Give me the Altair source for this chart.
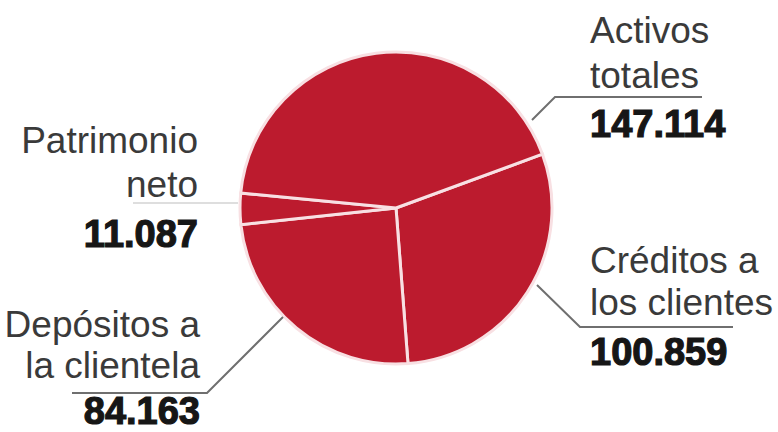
import math
import altair as alt
import pandas as pd

# ---- data ----
categories = ["Créditos a los clientes", "Depósitos a la clientela", "Patrimonio neto", "Activos totales"]
values = [100.859, 84.163, 11.087, 147.114]
value_labels = ["100.859", "84.163", "11.087", "147.114"]
label_lines = [["Créditos a", "los clientes"], ["Depósitos a", "la clientela"], ["Patrimonio", "neto"], ["Activos", "totales"]]

# ---- layout (pixel anchors for annotations) ----
start_angle = math.radians(69.8)
center = (396, 208)
radius = 156
label_x = [590, 200, 198, 590]
label_align = ["left", "right", "right", "left"]
line_baselines = [[273, 315], [337, 378], [153, 197], [43, 88]]
number_baseline = [365, 424, 247, 137]
leaders = [
    [(537, 285), (580, 327), (733, 327)],
    [(283, 317), (207, 393), (72, 393)],
    [(238, 203), (133, 203)],
    [(532, 120), (555, 97), (702, 97)],
]
leader_colors = ["#6f6f6f", "#6f6f6f", "#dedede", "#6f6f6f"]

pie_df = pd.DataFrame({"cat": categories, "value": values, "ord": list(range(len(values)))})

arc = alt.Chart(pie_df).mark_arc(
    outerRadius=radius, fill="#BC1B2E", stroke="#f8e0e3", strokeWidth=3
).encode(
    theta=alt.Theta("value:Q", stack=True, scale=alt.Scale(range=[start_angle, start_angle + 2 * math.pi])),
    order=alt.Order("ord:Q"),
    x=alt.value(center[0]),
    y=alt.value(center[1]),
)

lrows = []
for i, pts in enumerate(leaders):
    for j, (px, py) in enumerate(pts):
        lrows.append({"cat": categories[i], "px": px, "py": py, "step": j, "col": leader_colors[i]})
leader_df = pd.DataFrame(lrows)

lines = alt.Chart(leader_df).mark_line(strokeWidth=2).encode(
    x=alt.X("px:Q", scale=None),
    y=alt.Y("py:Q", scale=None),
    detail="cat:N",
    order="step:Q",
    color=alt.Color("col:N", scale=None),
)

trows = []
for i in range(len(categories)):
    for k, t in enumerate(label_lines[i]):
        trows.append({"txt": t, "px": label_x[i], "py": line_baselines[i][k], "align": label_align[i]})
text_df = pd.DataFrame(trows)
num_df = pd.DataFrame({"txt": value_labels, "px": label_x, "py": number_baseline, "align": label_align})

def text_layer(df, align, **kw):
    return alt.Chart(df[df["align"] == align]).mark_text(align=align, baseline="alphabetic", **kw).encode(
        x=alt.X("px:Q", scale=None), y=alt.Y("py:Q", scale=None), text="txt:N"
    )

label_kw = dict(font="Liberation Sans", fontSize=37, color="#3a3a3a")
num_kw = dict(font="Liberation Sans", fontSize=38, fontWeight="bold", color="#161616", stroke="#161616", strokeWidth=1.2)

chart = alt.layer(
    arc, lines,
    text_layer(text_df, "left", **label_kw), text_layer(text_df, "right", **label_kw),
    text_layer(num_df, "left", **num_kw), text_layer(num_df, "right", **num_kw),
).properties(
    width=778, height=432, padding=0, autosize=alt.AutoSizeParams(type="none"), background="white"
).configure_view(stroke=None)

chart.save("out.html", embed_options={"renderer": "svg", "actions": False})
